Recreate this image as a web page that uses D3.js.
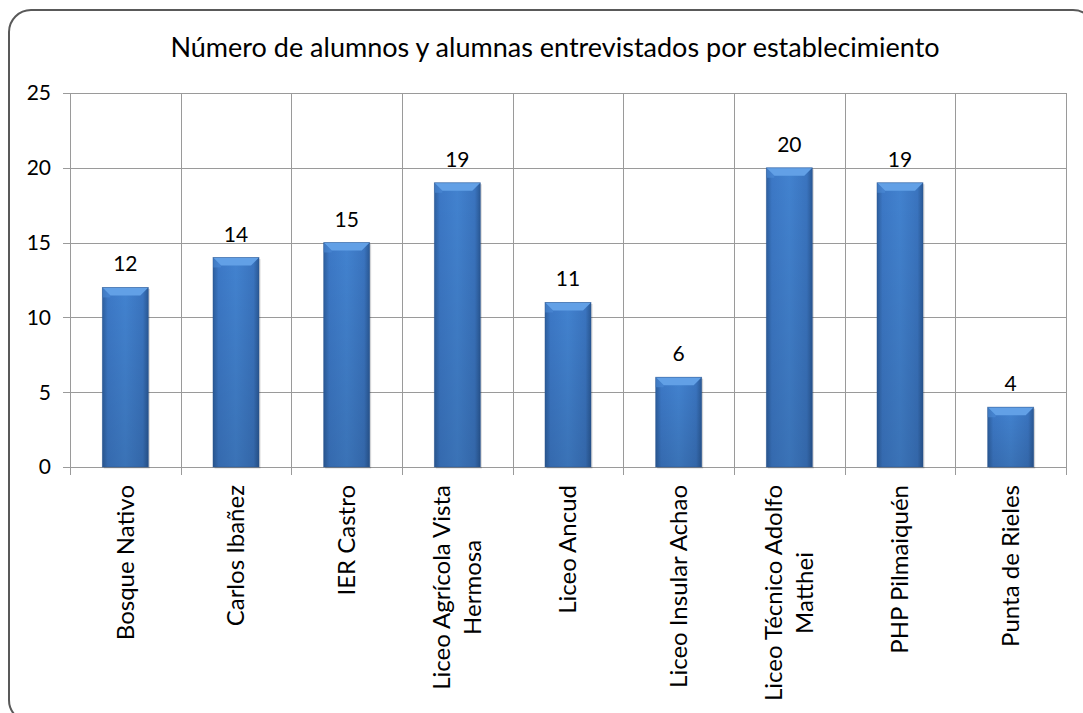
<!DOCTYPE html>
<html>
<head>
<meta charset="utf-8">
<script src="https://cdn.jsdelivr.net/npm/d3@7"></script>
<style>
  body { margin: 0; background: #fff; }
  text { font-family: Lato, "Open Sans", sans-serif; fill: #000; }
</style>
</head>
<body>
<svg id="grafico" width="1083" height="713"></svg>
<script>
// datos
var establecimientos = ["Bosque Nativo", "Carlos Ibañez", "IER Castro", "Liceo Agrícola Vista|Hermosa",
  "Liceo Ancud", "Liceo Insular Achao", "Liceo Técnico Adolfo|Matthei", "PHP Pilmaiquén", "Punta de Rieles"];
var alumnos = [12, 14, 15, 19, 11, 6, 20, 19, 4];
var ticksY = [0, 5, 10, 15, 20, 25];
var titulo = "Número de alumnos y alumnas entrevistados por establecimiento";

var svg = d3.select("#grafico"),
    margin = {top: 93, right: 17, bottom: 246, left: 70},
    width = svg.attr("width") - margin.left - margin.right,
    height = svg.attr("height") - margin.top - margin.bottom;

var defs = svg.append("defs");
var grad = defs.append("linearGradient").attr("id", "barra").attr("x1", 0).attr("x2", 1).attr("y1", 0).attr("y2", 0);
grad.append("stop").attr("offset", "0%").attr("stop-color", "#2d5f9f");
grad.append("stop").attr("offset", "12%").attr("stop-color", "#3c78c6");
grad.append("stop").attr("offset", "50%").attr("stop-color", "#4282cf");
grad.append("stop").attr("offset", "88%").attr("stop-color", "#3a74bf");
grad.append("stop").attr("offset", "100%").attr("stop-color", "#2a5996");
var gradV = defs.append("linearGradient").attr("id", "sombra").attr("x1", 0).attr("x2", 0).attr("y1", 0).attr("y2", 1);
gradV.append("stop").attr("offset", "0%").attr("stop-color", "#000").attr("stop-opacity", 0);
gradV.append("stop").attr("offset", "100%").attr("stop-color", "#000").attr("stop-opacity", 0.12);

// marco redondeado
svg.append("rect")
    .attr("x", 9).attr("y", 10).attr("width", 1086).attr("height", 712)
    .attr("rx", 22).attr("ry", 22)
    .attr("fill", "#fff").attr("stroke", "#595959").attr("stroke-width", 2);

svg.append("text")
    .attr("x", 555).attr("y", 57)
    .attr("text-anchor", "middle")
    .attr("font-size", 27)
    .text(titulo);

var g = svg.append("g").attr("transform", "translate(" + margin.left + "," + margin.top + ")");

var x = d3.scaleBand().domain(establecimientos).range([0, width]).paddingInner(0).paddingOuter(0);
var y = d3.scaleLinear().domain([0, 25]).range([height, 0]);

// rejilla horizontal
g.append("g").selectAll("line").data(ticksY).enter().append("line")
    .attr("x1", -7).attr("x2", width)
    .attr("y1", function(d) { return Math.round(y(d)) + 0.5; })
    .attr("y2", function(d) { return Math.round(y(d)) + 0.5; })
    .attr("stroke", "#9a9a9a").attr("stroke-width", 1);

// rejilla vertical
var bordes = establecimientos.map(function(d) { return x(d); }).concat([width]);
g.append("g").selectAll("line").data(bordes).enter().append("line")
    .attr("x1", function(d) { return Math.round(d) + 0.5; })
    .attr("x2", function(d) { return Math.round(d) + 0.5; })
    .attr("y1", 0).attr("y2", height + 8)
    .attr("stroke", "#9a9a9a").attr("stroke-width", 1);

// eje y
g.append("g").selectAll("text").data(ticksY).enter().append("text")
    .attr("x", -19).attr("y", function(d) { return y(d); })
    .attr("dy", "0.35em")
    .attr("text-anchor", "end")
    .attr("font-size", 21)
    .text(function(d) { return d; });

// barras
var bw = 46, bisel = 8;
var barras = g.append("g").selectAll("g").data(alumnos).enter().append("g")
    .attr("transform", function(d, i) {
      return "translate(" + (x(establecimientos[i]) + x.bandwidth() / 2 - bw / 2) + "," + y(d) + ")";
    });

barras.append("rect")
    .attr("x", 1.5).attr("y", 1.5)
    .attr("width", bw).attr("height", function(d) { return height - y(d); })
    .attr("fill", "#000").attr("opacity", 0.15);

barras.append("rect")
    .attr("width", bw).attr("height", function(d) { return height - y(d); })
    .attr("fill", "url(#barra)");

barras.append("rect")
    .attr("width", bw).attr("height", function(d) { return height - y(d); })
    .attr("fill", "url(#sombra)");

barras.append("path")
    .attr("d", "M0,0 L" + bw + ",0 L" + (bw - bisel) + "," + bisel + " L" + bisel + "," + bisel + " Z")
    .attr("fill", "#62a0e6");

barras.append("path")
    .attr("d", "M0,0 L" + bisel + "," + bisel + " L" + bisel + ",10 L0,10 Z")
    .attr("fill", "#4d8ad6").attr("opacity", 0.6);

barras.append("rect")
    .attr("width", bw).attr("height", function(d) { return height - y(d); })
    .attr("fill", "none").attr("stroke", "#2a5590").attr("stroke-width", 0.8).attr("opacity", 0.6);

// etiquetas de valor
barras.append("text")
    .attr("x", bw / 2).attr("y", -16)
    .attr("text-anchor", "middle")
    .attr("font-size", 21)
    .text(function(d) { return d; });

// etiquetas de categoría
var cats = g.append("g").selectAll("g").data(establecimientos).enter().append("g")
    .attr("transform", function(d) { return "translate(" + (x(d) + x.bandwidth() / 2) + "," + (height + 18) + ") rotate(-90)"; });

cats.each(function(d) {
  var lineas = d.split("|"),
      el = d3.select(this),
      n = lineas.length,
      lh = 31;
  var t = el.append("text").attr("font-size", 24).attr("text-anchor", "middle");
  lineas.forEach(function(l, i) {
    t.append("tspan").attr("x", 0).attr("y", (i - (n - 1) / 2) * lh).attr("dy", "0.35em").text(l);
  });
  var w = d3.max(t.selectAll("tspan").nodes(), function(s) { return s.getComputedTextLength(); });
  t.selectAll("tspan").attr("x", -w / 2);
});
</script>
</body>
</html>
